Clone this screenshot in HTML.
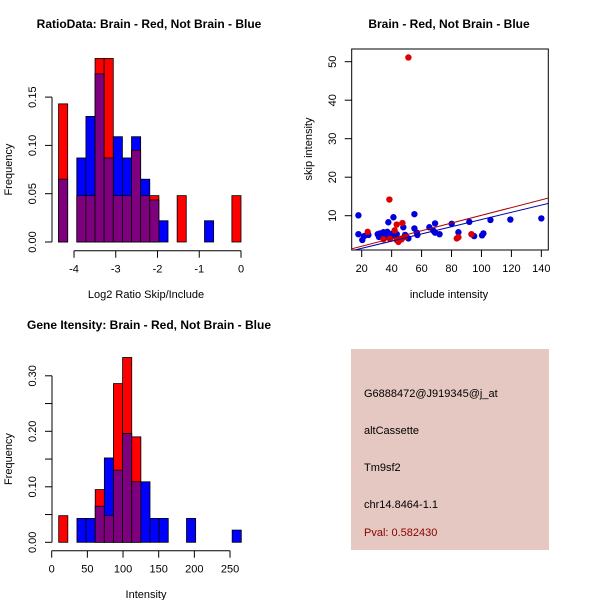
<!DOCTYPE html>
<html><head><meta charset="utf-8"><style>
body{margin:0;background:#fff}
svg{display:block;font-family:"Liberation Sans",sans-serif}
</style></head><body>
<svg id="c" width="600" height="600" viewBox="0 0 600 600" xmlns="http://www.w3.org/2000/svg">
<rect x="0" y="0" width="600" height="600" fill="#fff"/>
<g id="p1"></g>
<g id="p2"></g>
<g id="p3"></g>
<g id="p4">
<rect x="351" y="349" width="198" height="201" fill="#e5c8c1"/>
<text x="364" y="397" font-size="11" fill="#000">G6888472@J919345@j_at</text>
<text x="364" y="434" font-size="11" fill="#000">altCassette</text>
<text x="364" y="471" font-size="11" fill="#000">Tm9sf2</text>
<text x="364" y="508" font-size="11" fill="#000">chr14.8464-1.1</text>
<text x="364" y="536" font-size="11" fill="#8b0000">Pval: 0.582430</text>
</g>
</svg>
<script>
// Histogram 1 data (Log2 ratio)
const h1Start = -4.37;
const h1Width = 0.2185;
const h1Red  = [0.143,0,0.048,0.048,0.19,0.19,0.048,0.048,0.095,0.048,0.048,0,0,0.048,0,0,0,0,0,0.048];
const h1Blue = [0.065,0,0.087,0.13,0.174,0.087,0.109,0.087,0.109,0.065,0.0435,0.022,0,0,0,0,0.022,0,0,0];
const h1XTicks = [-4,-3,-2,-1,0];
const h1YTicks = [0,0.05,0.10,0.15];
const h1YLabels = ["0.00","0.05","0.10","0.15"];
// Histogram 2 data (Intensity)
const h2Start = 9.8;
const h2Width = 12.8;
const h2Red  = [0.048,0,0,0,0.095,0.048,0.286,0.333,0.19,0,0,0,0,0,0,0,0,0,0,0];
const h2Blue = [0,0,0.043,0.043,0.065,0.152,0.13,0.196,0.109,0.109,0.043,0.043,0,0,0.043,0,0,0,0,0.022];
const h2XTicks = [0,50,100,150,200,250];
const h2YTicks = [0,0.05,0.10,0.15,0.20,0.25,0.30];
const h2YLabels = ["0.00","","0.10","","0.20","","0.30"];
// Scatter data
const redX = [51.2,38.5,24,43.4,47.2,42,83.5,84.6,93.3,44.5,43.4,38.9,34.5,49,46.7];
const redY = [51.1,14.2,5.8,7.7,8.1,6.2,4.1,4.4,5.2,3.2,3.7,4.0,3.9,4.5,3.9];
const blueX = [17.8,17.8,20.4,21.6,24.5,37.8,41.2,55.2,47.8,55.2,56.8,57.2,51.2,65.2,69,67.9,69,72,80.1,84.6,91.9,95.1,100.4,101.3,106,119.3,140,30.7,32.2,33.4,34.5,35.6,36.7,37.1,38.9,40.7,42.3,43.4,45.6,31.5,49,49.7];
const blueY = [10.1,5.2,3.7,4.7,5.0,8.3,9.6,10.4,7.0,6.7,5.6,5.0,4.1,7.0,8.0,6.1,5.6,5.2,7.9,5.7,8.4,4.7,4.9,5.4,8.9,9.0,9.3,5.2,5.4,5.0,5.7,4.5,5.0,5.8,5.2,5.4,4.7,5.2,3.7,4.5,5.0,4.5];
const redFit = [0.05,0.1005];
const blueFit = [-0.345,0.0936];
const scXTicks = [20,40,60,80,100,120,140];
const scYTicks = [10,20,30,40,50];

const NS="http://www.w3.org/2000/svg";
function mk(parent,tag,attrs){const e=document.createElementNS(NS,tag);for(const k in attrs)e.setAttribute(k,attrs[k]);parent.appendChild(e);return e;}
function txt(parent,x,y,s,size,rot,extra){const t=mk(parent,'text',{x:x,y:y,'font-size':size,'text-anchor':'middle'});if(rot)t.setAttribute('transform','rotate(-90 '+x+' '+y+')');if(extra)for(const k in extra)t.setAttribute(k,extra[k]);t.textContent=s;return t;}

function hist(g,start,w,red,blue,sx,sy,xTicks,yTicks,yLabels,axY,title,xlab){
  for(let i=0;i<red.length;i++){
    const r=red[i],b=blue[i];
    const x0=sx(start+i*w),x1=sx(start+(i+1)*w);
    const mx=Math.max(r,b),mn=Math.min(r,b);
    if(mx>0){
      const e=mk(g,'rect',{x:x0,y:sy(mx),width:x1-x0,height:sy(0)-sy(mx),fill:r>=b?'#ff0000':'#0000ff',stroke:'#000','stroke-width':0.8});
      
      
    }
    if(mn>0){
      const e=mk(g,'rect',{x:x0,y:sy(mn),width:x1-x0,height:sy(0)-sy(mn),fill:'#7f007f',stroke:'#000','stroke-width':0.8});
      
      
    }
  }
  const ax=mk(g,'g',{stroke:'#000','stroke-width':1});
  
  
  mk(ax,'line',{x1:52,x2:52,y1:sy(yTicks[0]),y2:sy(yTicks[yTicks.length-1])});
  yTicks.forEach((v,i)=>{mk(ax,'line',{x1:45,x2:52,y1:sy(v),y2:sy(v)});
    if(yLabels[i]){const t=txt(g,36,sy(v),yLabels[i],11,true);}});
  const xa=mk(g,'g',{stroke:'#000','stroke-width':1});
  
  
  mk(xa,'line',{x1:sx(xTicks[0]),x2:sx(xTicks[xTicks.length-1]),y1:axY,y2:axY});
  xTicks.forEach(v=>{mk(xa,'line',{x1:sx(v),x2:sx(v),y1:axY,y2:axY+7});
    const t=txt(g,sx(v),axY+22,String(v),11);});
  let t=txt(g,149,title[1],title[0],12,false,{'font-weight':'bold'});
  
  t=txt(g,146,xlab[1],xlab[0],11);
  
  t=txt(g,12,(sy(yTicks[0])+sy(yTicks[yTicks.length-1]))/2,'Frequency',11,true);
  
}

const g1=document.getElementById('p1');
hist(g1,h1Start,h1Width,h1Red,h1Blue,v=>74+(v+4)*41.75,v=>242-v*966,h1XTicks,h1YTicks,h1YLabels,250.7,
  ['RatioData: Brain - Red, Not Brain - Blue',28],['Log2 Ratio Skip/Include',298]);
const g3=document.getElementById('p3');
hist(g3,h2Start,h2Width,h2Red,h2Blue,v=>51.7+v*0.7133,v=>542.3-v*555,h2XTicks,h2YTicks,h2YLabels,550.7,
  ['Gene Itensity: Brain - Red, Not Brain - Blue',329],['Intensity',598]);

// scatter
const g2=document.getElementById('p2');
const sx=v=>361.7+(v-20)*1.497, sy=v=>215.7-(v-10)*3.85;
const L=351.7,R=548.3,T=49,B=250;
mk(g2,'defs',{}).innerHTML='<clipPath id="clip"><rect x="'+L+'" y="'+T+'" width="'+(R-L)+'" height="'+(B-T)+'"/></clipPath>';
const box=mk(g2,'rect',{x:L,y:T,width:R-L,height:B-T,fill:'none',stroke:'#000','stroke-width':1});


blueX.forEach((x,i)=>{const c=mk(g2,'circle',{cx:sx(x),cy:sy(blueY[i]),r:3.2,fill:'#0000dd'});
  
  });
redX.forEach((x,i)=>{const c=mk(g2,'circle',{cx:sx(x),cy:sy(redY[i]),r:3.2,fill:'#dd0000'});
  
  });
[[redFit,'#aa0000','red-fit-line'],[blueFit,'#0000aa','blue-fit-line']].forEach(([f,col,nm])=>{
  const xa=10,xb=150;
  const l=mk(g2,'line',{x1:sx(xa),y1:sy(f[0]+f[1]*xa),x2:sx(xb),y2:sy(f[0]+f[1]*xb),stroke:col,'stroke-width':1,'clip-path':'url(#clip)'});
  
  
});
scXTicks.forEach(v=>{mk(g2,'line',{x1:sx(v),x2:sx(v),y1:B,y2:B+7,stroke:'#000'});
  const t=txt(g2,sx(v),B+22,String(v),11);});
scYTicks.forEach(v=>{mk(g2,'line',{x1:L-7,x2:L,y1:sy(v),y2:sy(v),stroke:'#000'});
  const t=txt(g2,336,sy(v),String(v),11,true);});
let t=txt(g2,449,28,'Brain - Red, Not Brain - Blue',12,false,{'font-weight':'bold'});

t=txt(g2,449,298,'include intensity',11);

t=txt(g2,312,149,'skip intensity',11,true);

</script>
</body></html>
